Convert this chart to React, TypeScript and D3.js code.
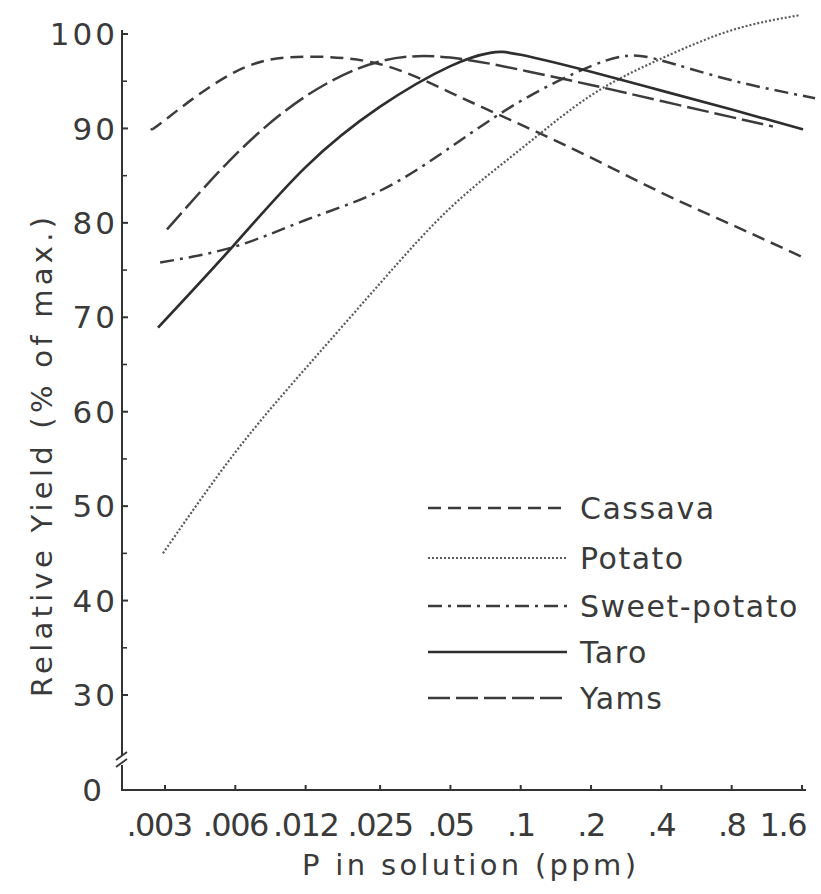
import React from "react";
import * as d3 from "d3";

const xTickValues = [0.003, 0.006, 0.012, 0.025, 0.05, 0.1, 0.2, 0.4, 0.8, 1.6];
const xTickLabels = [".003", ".006", ".012", ".025", ".05", ".1", ".2", ".4", ".8", "1.6"];
const yTickValues = [30, 40, 50, 60, 70, 80, 90, 100];
const yMinorTicks = [35, 45, 55, 65, 75, 85, 95];

const seriesNames = ["Cassava", "Potato", "Sweet-potato", "Taro", "Yams"];

const cassavaX = [0.00264, 0.003, 0.006, 0.012, 0.025, 0.05, 0.1, 0.2, 0.4, 0.8, 1.6];
const cassavaY = [90.0, 90.9, 96.0, 97.6, 96.8, 93.8, 90.4, 86.9, 83.2, 79.8, 76.4];

const potatoX = [0.00294, 0.006, 0.012, 0.025, 0.05, 0.1, 0.2, 0.4, 0.8, 1.568];
const potatoY = [45.0, 55.7, 64.6, 73.6, 81.6, 87.8, 93.5, 97.4, 100.4, 102.0];

const sweetX = [0.00286, 0.006, 0.012, 0.025, 0.05, 0.1, 0.2, 0.29, 0.4, 0.8, 1.82];
const sweetY = [75.8, 77.5, 80.3, 83.4, 88.0, 92.9, 96.6, 97.7, 97.2, 95.1, 93.2];

const taroX = [0.0028, 0.006, 0.012, 0.025, 0.05, 0.074, 0.1, 0.2, 0.4, 0.8, 1.616];
const taroY = [68.9, 77.8, 85.9, 92.3, 96.6, 98.0, 97.8, 96.0, 94.0, 92.0, 89.9];

const yamsX = [0.00306, 0.006, 0.012, 0.025, 0.05, 0.1, 0.2, 0.4, 0.8, 1.2];
const yamsY = [79.3, 87.2, 93.4, 97.1, 97.5, 96.2, 94.6, 92.9, 91.2, 90.2];

const seriesX = [cassavaX, potatoX, sweetX, taroX, yamsX];
const seriesY = [cassavaY, potatoY, sweetY, taroY, yamsY];

const styles = [
  { dash: "13 7", width: 2.5, color: "#3c3c3c" },
  { dash: "2 2", width: 2.2, color: "#5a5a5a" },
  { dash: "14 6 3 6", width: 2.5, color: "#3c3c3c" },
  { dash: "none", width: 2.7, color: "#2e2e2e" },
  { dash: "22 6", width: 2.5, color: "#3c3c3c" },
];

const FONT = "'DejaVu Sans', sans-serif";
const TEXT = "#3a3a3a";

export default function App() {
  const x = d3.scaleLog().domain([0.003, 1.6]).range([165, 802]);
  const y = d3.scaleLinear().domain([30, 100]).range([695, 34]);
  const axisX = 122;
  const axisY = 790;

  const line = d3
    .line<[number, number]>()
    .x((d) => x(d[0]))
    .y((d) => y(d[1]))
    .curve(d3.curveNatural);

  const legendRows = [508, 558, 606, 652, 698];

  return (
    <svg
      width={821}
      height={894}
      style={{ position: "absolute", left: 0, top: 0, background: "#fff" }}
    >
      <rect x={0} y={0} width={821} height={894} fill="#fff" />

      {/* Y axis with break */}
      <line x1={axisX} x2={axisX} y1={30} y2={755} stroke="#333" strokeWidth={2} />
      <line x1={axisX} x2={axisX} y1={765} y2={axisY} stroke="#333" strokeWidth={2} />
      <path d={`M${axisX - 6},${760} L${axisX + 5},${752}`} stroke="#333" strokeWidth={1.8} fill="none" />
      <path d={`M${axisX - 6},${767} L${axisX + 5},${759}`} stroke="#333" strokeWidth={1.8} fill="none" />

      {yTickValues.map((v) => (
        <g key={"yt" + v}>
          <line x1={axisX} x2={axisX + 6} y1={y(v)} y2={y(v)} stroke="#333" strokeWidth={2} />
          <text
            x={axisX - 4}
            y={y(v)}
            dy="0.36em"
            textAnchor="end"
            fontFamily={FONT}
            fontSize={31}
            fill={TEXT}
            letterSpacing={3}
          >
            {v}
          </text>
        </g>
      ))}
      {yMinorTicks.map((v) => (
        <line key={"ym" + v} x1={axisX} x2={axisX + 5} y1={y(v)} y2={y(v)} stroke="#333" strokeWidth={1.6} />
      ))}
      <text x={102} y={axisY} dy="0.36em" textAnchor="end" fontFamily={FONT} fontSize={31} fill={TEXT}>
        0
      </text>

      {/* X axis */}
      <line x1={axisX - 1} x2={806} y1={axisY} y2={axisY} stroke="#333" strokeWidth={2} />
      {xTickValues.map((v, i) => {
        const last = i === xTickValues.length - 1;
        return (
          <g key={"xt" + i}>
            <line x1={x(v)} x2={x(v)} y1={axisY} y2={axisY - 5} stroke="#333" strokeWidth={2} />
            <text
              x={last ? 806 : i === 0 ? x(v) - 6 : x(v)}
              y={836}
              textAnchor={last ? "end" : "middle"}
              fontFamily={FONT}
              fontSize={32}
              fill={TEXT}
              letterSpacing={-1.5}
            >
              {xTickLabels[i]}
            </text>
          </g>
        );
      })}

      {/* Axis titles */}
      <text
        x={302}
        y={875}
        textLength={334}
        lengthAdjust="spacing"
        fontFamily={FONT}
        fontSize={29}
        fill={TEXT}
      >
        P in solution (ppm)
      </text>
      <text
        transform={`translate(52,697) rotate(-90)`}
        textLength={480}
        lengthAdjust="spacing"
        fontFamily={FONT}
        fontSize={29}
        fill={TEXT}
      >
        Relative Yield (% of max.)
      </text>

      {/* Curves */}
      {seriesNames.map((name, k) => {
        const pts: [number, number][] = seriesX[k].map((xv, j) => [xv, seriesY[k][j]]);
        const s = styles[k];
        return (
          <path
            key={name}
            d={line(pts) || ""}
            fill="none"
            stroke={s.color}
            strokeWidth={s.width}
            strokeDasharray={s.dash}
          />
        );
      })}

      {/* Legend */}
      {seriesNames.map((name, k) => {
        const s = styles[k];
        const ly = legendRows[k];
        return (
          <g key={"lg" + name}>
            <line
              x1={428}
              x2={567}
              y1={ly}
              y2={ly}
              stroke={s.color}
              strokeWidth={s.width}
              strokeDasharray={s.dash}
            />
            <text
              x={580}
              y={ly}
              dy="0.36em"
              fontFamily={FONT}
              fontSize={30}
              fill={TEXT}
              letterSpacing={1.5}
            >
              {name}
            </text>
          </g>
        );
      })}
    </svg>
  );
}
